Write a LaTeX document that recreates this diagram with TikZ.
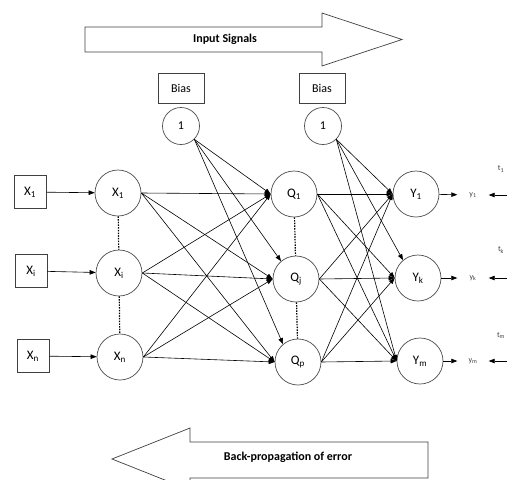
\documentclass[tikz,border=0pt]{standalone}
\usepackage{fontspec}
\setmainfont{Carlito}
\usetikzlibrary{arrows.meta}
\tikzset{
  neuron/.style={circle,draw=black!70,line width=0.7pt,minimum size=46pt,inner sep=0pt,font=\fontsize{13}{13}\selectfont},
  biasn/.style={circle,draw=black!70,line width=0.7pt,minimum size=37pt,inner sep=0pt,font=\fontsize{12}{12}\selectfont},
  inbox/.style={rectangle,draw=black!75,line width=0.7pt,minimum width=32pt,minimum height=33pt,inner sep=0pt,font=\fontsize{13}{13}\selectfont},
  biasbox/.style={rectangle,draw=black!75,line width=0.7pt,minimum width=46pt,minimum height=30pt,inner sep=0pt,font=\fontsize{12}{12}\selectfont},
  outlbl/.style={minimum width=31pt,inner sep=0pt,font=\fontsize{8}{8}\selectfont,text=black!75},
  conn/.style={line width=0.6pt,-{Triangle[length=6pt,width=4.5pt]}},
  dotline/.style={line width=1.2pt,black,dash pattern=on 1.5pt off 1.2pt},
  bigarrow/.style={draw=black!75,line width=0.7pt,fill=white},
}
\begin{document}
\begin{tikzpicture}[x=1pt,y=-1pt]
\useasboundingbox (0,0) rectangle (507,480);
\clip (0,0) rectangle (507,480);
% big arrows
\draw[bigarrow] (85,27) -- (322,27) -- (322,13) -- (402,39.5) -- (322,66) -- (322,52) -- (85,52) -- cycle;
\node[font=\bfseries\fontsize{12}{12}\selectfont] (insig) at (225,39) {Input Signals};
\draw[bigarrow] (428,442) -- (190,442) -- (190,428) -- (112,459) -- (190,490) -- (190,478) -- (428,478) -- cycle;
\node[font=\bfseries\fontsize{12}{12}\selectfont] (backp) at (288,457) {Back-propagation of error};
% bias
\node[biasbox] (bb1) at (181,88) {Bias};
\node[biasbox] (bb2) at (322,88) {Bias};
\node[biasn] (B1) at (181,126) {1};
\node[biasn] (B2) at (323,126) {1};
% inputs
\node[inbox] (x1) at (30,192) {X\textsubscript{1}};
\node[inbox] (xi) at (31,271) {X\textsubscript{i}};
\node[inbox] (xn) at (33,356) {X\textsubscript{n}};
% neurons
\node[neuron] (X1) at (118,193) {X\textsubscript{1}};
\node[neuron] (Xi) at (119,273) {X\textsubscript{i}};
\node[neuron] (Xn) at (120,357) {X\textsubscript{n}};
\node[neuron] (Q1) at (294,194) {Q\textsubscript{1}};
\node[neuron] (Qj) at (296,279) {Q\textsubscript{j}};
\node[neuron] (Qp) at (298,362) {Q\textsubscript{p}};
\node[neuron] (Y1) at (416,194) {Y\textsubscript{1}};
\node[neuron] (Yk) at (418,278) {Y\textsubscript{k}};
\node[neuron] (Ym) at (420,361) {Y\textsubscript{m}};
% outputs
\node[outlbl] (y1) at (473,195) {y\textsubscript{1}};
\node[outlbl] (yk) at (473,278) {y\textsubscript{k}};
\node[outlbl] (ym) at (473,361) {y\textsubscript{m}};
\node[outlbl,minimum width=0pt] (t1) at (501,169) {t\textsubscript{1}};
\node[outlbl,minimum width=0pt] (tk) at (501,250) {t\textsubscript{k}};
\node[outlbl,minimum width=0pt] (tm) at (501,335) {t\textsubscript{m}};
\coordinate (e1) at (508,195);
\coordinate (ek) at (508,278);
\coordinate (em) at (508,361);
% dotted
\draw[dotline] (X1) -- (Xi);
\draw[dotline] (Xi) -- (Xn);
\draw[dotline] (Q1) -- (Qj);
\draw[dotline] (Qj) -- (Qp);
% input arrows
\draw[conn] (x1) -- (X1);
\draw[conn] (xi) -- (Xi);
\draw[conn] (xn) -- (Xn);
% X to Q
\foreach \s in {X1,Xi,Xn}{
  \draw[conn] (\s.east) -- (Q1.west);
  \draw[conn] (\s.east) -- (Qj.west);
  \draw[conn] (\s.east) -- (Qp.west);
}
\draw[conn] (B1.-45) -- (Q1.west);
\draw[conn] (B1.-45) -- (Qj.130);
\draw[conn] (B1.-45) -- (Qp.130);
% Q to Y
\foreach \s in {Q1,Qj,Qp}{
  \draw[conn] (\s.east) -- (Y1.west);
  \draw[conn] (\s.east) -- (Yk.west);
  \draw[conn] (\s.east) -- (Ym.west);
}
\draw[conn] (B2.-45) -- (Y1.west);
\draw[conn] (B2.-45) -- (Yk.130);
\draw[conn] (B2.-45) -- (Ym.west);
% outputs
\draw[conn] (Y1) -- (y1);
\draw[conn] (Yk) -- (yk);
\draw[conn] (Ym) -- (ym);
\draw[conn] (e1) -- (y1);
\draw[conn] (ek) -- (yk);
\draw[conn] (em) -- (ym);
\end{tikzpicture}
\end{document}
